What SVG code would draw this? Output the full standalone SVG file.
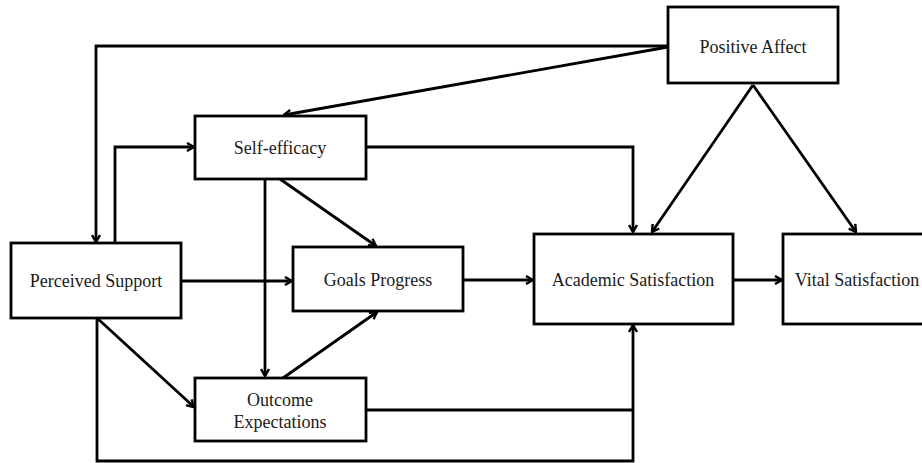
<svg xmlns="http://www.w3.org/2000/svg" width="922" height="463" viewBox="0 0 922 463">
<style>
.box{fill:#fff;stroke:#000;stroke-width:2.8}
.t{font-family:"Liberation Serif","Times New Roman",serif;font-size:18px;fill:#1a1a1a;text-anchor:middle}
.c{fill:none;stroke:#000;stroke-width:2.8;marker-end:url(#ah)}
.n{fill:none;stroke:#000;stroke-width:2.8}
</style>
<defs>
<marker id="ah" viewBox="0 0 10 10" refX="9" refY="5" markerWidth="10" markerHeight="10" markerUnits="userSpaceOnUse" orient="auto">
<path d="M2,1 L9,5 L2,9" fill="none" stroke="#000" stroke-width="2.4"/>
</marker>
</defs>
<rect width="922" height="463" fill="#fff"/>
<g id="connectors">
<path class="c" d="M668,46 H96 V242"/>
<path class="c" d="M668,47 L284,115"/>
<path class="c" d="M115,243 V147 H194"/>
<path class="c" d="M366,147 H633 V232"/>
<path class="c" d="M753,85 L652,232"/>
<path class="c" d="M753,85 L856,232"/>
<path class="c" d="M181,281 H292"/>
<path class="c" d="M280,179 L376,246"/>
<path class="c" d="M265,179 V376"/>
<path class="c" d="M283,378 L377,312"/>
<path class="c" d="M97,318 L194,407"/>
<path class="c" d="M464,280 H533"/>
<path class="c" d="M733,280 H782"/>
<path class="n" d="M366,410 H633"/>
<path class="c" d="M97,318 V461 H633 V325"/>
</g>
<g id="positive-affect"><rect class="box" x="668" y="7" width="170" height="76"/><text class="t" x="753" y="53">Positive Affect</text></g>
<g id="self-efficacy"><rect class="box" x="195" y="116" width="171" height="63"/><text class="t" x="280" y="154">Self-efficacy</text></g>
<g id="perceived-support"><rect class="box" x="11" y="243" width="170" height="75"/><text class="t" x="96" y="287">Perceived Support</text></g>
<g id="goals-progress"><rect class="box" x="293" y="247" width="170" height="64"/><text class="t" x="378" y="286">Goals Progress</text></g>
<g id="academic-satisfaction"><rect class="box" x="534" y="234" width="199" height="90"/><text class="t" x="633" y="286">Academic Satisfaction</text></g>
<g id="vital-satisfaction"><rect class="box" x="783" y="234" width="160" height="90"/><text class="t" x="857" y="286">Vital Satisfaction</text></g>
<g id="outcome-expectations"><rect class="box" x="195" y="378" width="171" height="63"/><text class="t" x="280" y="406">Outcome</text><text class="t" x="280" y="428">Expectations</text></g>
</svg>
